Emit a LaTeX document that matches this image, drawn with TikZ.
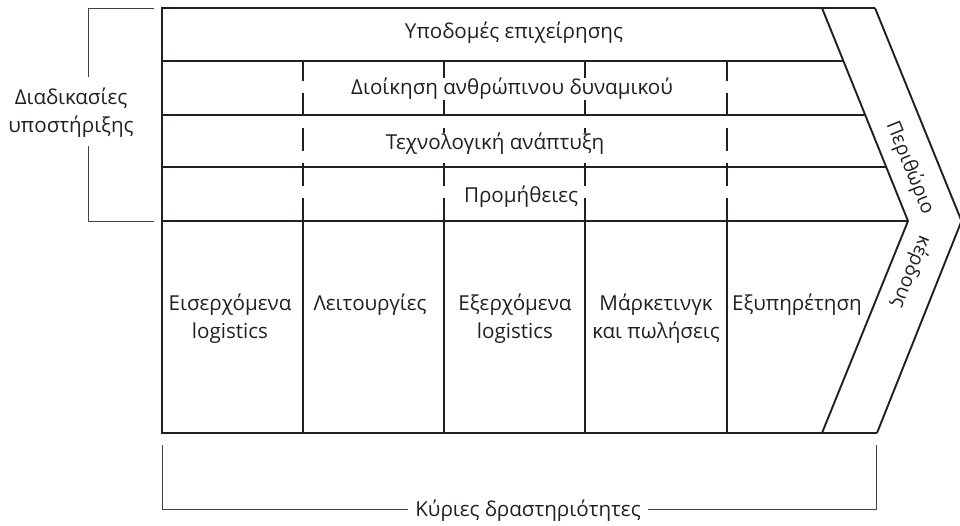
\documentclass[tikz,border=0pt]{standalone}
\usepackage{fontspec}
\setmainfont{Open Sans}
\definecolor{ink}{HTML}{231F20}
\begin{document}
\begin{tikzpicture}[x=1pt,y=-1pt,
  frameline/.style={line width=2.4pt, draw=ink, line join=miter},
  chevline/.style={line width=1.9pt, draw=ink},
  gridline/.style={line width=1.3pt, draw=ink},
  dashline/.style={gridline, dash pattern=on 22.5pt off 12.5pt},
  bracketline/.style={line width=0.9pt, draw=ink!85},
  lbl/.style={font=\fontsize{20.6}{28}\selectfont, text=ink, inner sep=0pt, align=center, anchor=base},
  rowlbl/.style={lbl, fill=white, inner xsep=0.5pt, inner ysep=0pt},
  rlbl/.style={font=\fontsize{19.5}{24}\selectfont, text=ink, inner sep=0pt, anchor=center},
]
\useasboundingbox (0,0) rectangle (960,526);
% key points
\coordinate (TL) at (162,8);
\coordinate (BL) at (162,433);
\coordinate (OT) at (875,8);
\coordinate (OTip) at (961.5,221);
\coordinate (OB) at (877,433);
\coordinate (IT) at (822,8);
\coordinate (ITip) at (908,221);
\coordinate (IB) at (822,433);
% row lines
\foreach \y/\xe in {61/843.4, 115/865.2, 167/886.2, 221/908} {
  \draw[gridline] (162,\y) -- (\xe,\y);
}
% column lines
\foreach \x in {303,444,585,727} {
  \draw[gridline] (\x,221) -- (\x,433);
  \draw[dashline] (\x,221) -- (\x,61);
}
% inner chevron
\draw[chevline] (IT) -- (ITip) -- (IB);
% outer frame with chevron
\draw[frameline] (OB) -- (BL) -- (TL) -- (OT);
\draw[chevline] (OT) -- (OTip) -- (OB);
% left bracket
\coordinate (lb1) at (154,8);
\coordinate (lb2) at (88,8);
\coordinate (lb3) at (88,77);
\coordinate (lb4) at (88,146);
\coordinate (lb5) at (88,221);
\coordinate (lb6) at (154,221);
\draw[bracketline] (lb1) -- (lb2) -- (lb3);
\draw[bracketline] (lb4) -- (lb5) -- (lb6);
\node[lbl] (support) at (71,133) {Διαδικασίες\\υποστήριξης};
% bottom bracket
\node[lbl] (primary) at (528,516) {Κύριες δραστηριότητες};
\coordinate (bb1) at (162,445);
\coordinate (bb2) at (162,509);
\coordinate (bb3) at (876,445);
\coordinate (bb4) at (876,509);
\draw[bracketline] (bb1) -- (bb2) -- ([xshift=-7pt]primary.west |- bb2);
\draw[bracketline] (bb3) -- (bb4) -- ([xshift=7pt]primary.east |- bb4);
% support activity labels
\node[lbl] (infra) at (514,39) {Υποδομές επιχείρησης};
\node[rowlbl] (hrm) at (512,95) {Διοίκηση ανθρώπινου δυναμικού};
\node[rowlbl] (tech) at (495,150) {Τεχνολογική ανάπτυξη};
\node[rowlbl] (proc) at (521,203) {Προμήθειες};
% primary activity labels
\node[lbl] (inbound) at (230,338) {Εισερχόμενα\\logistics};
\node[lbl] (ops) at (370,310) {Λειτουργίες};
\node[lbl] (outbound) at (515,338) {Εξερχόμενα\\logistics};
\node[lbl] (mkt) at (656,338) {Μάρκετινγκ\\και πωλήσεις};
\node[lbl] (service) at (797,310) {Εξυπηρέτηση};
% margin
\node[rlbl, rotate=-68] (margin1) at (910,168) {Περιθώριο};
\node[rlbl, rotate=-112] (margin2) at (911,272) {κέρδους};
\end{tikzpicture}
\end{document}
